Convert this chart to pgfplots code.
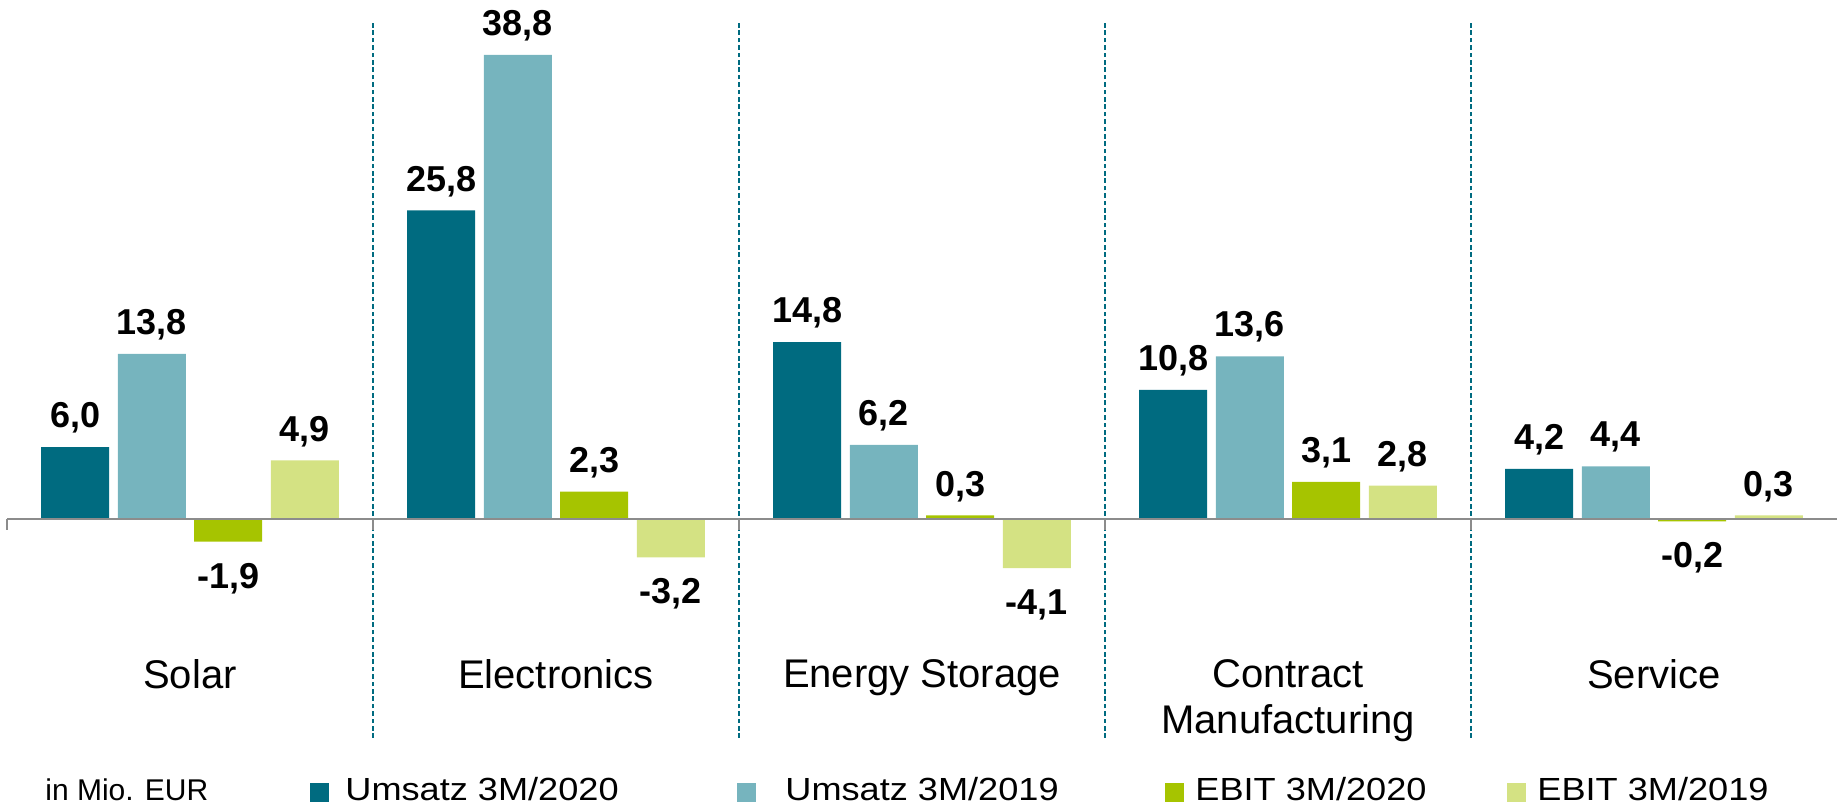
\documentclass[border=0pt]{standalone}
\usepackage{fontspec}
\setmainfont{Liberation Sans}
\newfontfamily\legfont{Liberation Sans}[FakeStretch=1.13]
\usepackage{pgfplots}
\usepackage{pgfplotstable}
\pgfplotsset{compat=1.18}
\definecolor{cUa}{RGB}{0,107,128}
\definecolor{cUb}{RGB}{118,180,190}
\definecolor{cEa}{RGB}{166,196,0}
\definecolor{cEb}{RGB}{212,226,131}
\definecolor{sep}{RGB}{0,107,128}
\definecolor{zline}{RGB}{140,140,140}

\pgfplotstableread{
x u20 u19 e20 e19 lu20 lu19 le20 le19
0 6.0 13.8 -1.9 4.9 6,0 13,8 -1,9 4,9
1 25.8 38.8 2.3 -3.2 25,8 38,8 2,3 -3,2
2 14.8 6.2 0.3 -4.1 14,8 6,2 0,3 -4,1
3 10.8 13.6 3.1 2.8 10,8 13,6 3,1 2,8
4 4.2 4.4 -0.2 0.3 4,2 4,4 -0,2 0,3
}\datatable

\begin{document}
\begin{tikzpicture}
\begin{axis}[
  at={(0,0)}, anchor=south west,
  scale only axis,
  width=915pt, height=358.5pt,
  xmin=-0.5, xmax=4.5,
  ymin=-18.31, ymax=41.64,
  clip=false,
  axis line style={draw=none},
  major tick length=0pt,
  ytick=\empty,
  xtick={0,1,2,3,4},
  xticklabels={Solar, Electronics, Energy Storage, {Contract\\Manufacturing}, Service},
  xticklabel style={anchor=north, inner sep=0pt, yshift=39.5pt, align=center,
    font=\fontsize{20}{23}\selectfont},
  extra x ticks={0.5,1.5,2.5,3.5},
  extra x tick labels={},
  extra x tick style={grid=major, major grid style={sep, line width=1pt, dash pattern=on 2.3pt off 1.4pt}},
  ybar,
  bar width=34pt,
  point meta=explicit symbolic,
  nodes near coords,
  every node near coord/.append style={font=\bfseries\fontsize{18}{18}\selectfont,
    text depth=0pt, inner ysep=9.5pt, inner xsep=0pt, black, anchor=south},
  pos/.style={restrict y to domain=0:100},
  neg/.style={restrict y to domain=-100:0,
    every node near coord/.append style={anchor=north, inner ysep=10.5pt}},
]
\addplot[fill=cUa, draw=none, bar shift=-57.4pt] table[x=x, y=u20, meta=lu20] {\datatable};
\addplot[fill=cUb, draw=none, bar shift=-19.1pt] table[x=x, y=u19, meta=lu19] {\datatable};
\addplot[fill=cEa, draw=none, bar shift=19.1pt, pos] table[x=x, y=e20, meta=le20] {\datatable};
\addplot[fill=cEa, draw=none, bar shift=19.1pt, neg] table[x=x, y=e20, meta=le20] {\datatable};
\addplot[fill=cEb, draw=none, bar shift=57.4pt, pos] table[x=x, y=e19, meta=le19] {\datatable};
\addplot[fill=cEb, draw=none, bar shift=57.4pt, neg] table[x=x, y=e19, meta=le19] {\datatable};
\draw[zline, line width=1pt] (axis cs:-0.5,0) -- (axis cs:4.5,0);
\draw[zline, line width=1pt] (axis cs:-0.5,0) -- ([yshift=-5.5pt]axis cs:-0.5,0);
\draw[zline, line width=1pt] (axis cs:0.5,0) -- ([yshift=-5.5pt]axis cs:0.5,0);
\draw[zline, line width=1pt] (axis cs:1.5,0) -- ([yshift=-5.5pt]axis cs:1.5,0);
\draw[zline, line width=1pt] (axis cs:2.5,0) -- ([yshift=-5.5pt]axis cs:2.5,0);
\draw[zline, line width=1pt] (axis cs:3.5,0) -- ([yshift=-5.5pt]axis cs:3.5,0);
\end{axis}
% legend
\node[anchor=base west, inner sep=0pt, font=\fontsize{15}{15}\selectfont] at (19pt,-31.5pt) {in Mio. EUR};
\fill[cUa] (151.5pt,-22.5pt) rectangle (161pt,-32pt);
\node[anchor=base west, inner sep=0pt, font=\legfont\fontsize{16}{16}\selectfont] at (169pt,-31.5pt) {Umsatz 3M/2020};
\fill[cUb] (365pt,-22.5pt) rectangle (374.5pt,-32pt);
\node[anchor=base west, inner sep=0pt, font=\legfont\fontsize{16}{16}\selectfont] at (389pt,-31.5pt) {Umsatz 3M/2019};
\fill[cEa] (579pt,-22.5pt) rectangle (588.5pt,-32pt);
\node[anchor=base west, inner sep=0pt, font=\legfont\fontsize{16}{16}\selectfont] at (594pt,-31.5pt) {EBIT 3M/2020};
\fill[cEb] (750pt,-22.5pt) rectangle (759.5pt,-32pt);
\node[anchor=base west, inner sep=0pt, font=\legfont\fontsize{16}{16}\selectfont] at (765pt,-31.5pt) {EBIT 3M/2019};
\pgfresetboundingbox
\path (-3.5pt,-35pt) rectangle (915pt,369pt);
\end{tikzpicture}
\end{document}
